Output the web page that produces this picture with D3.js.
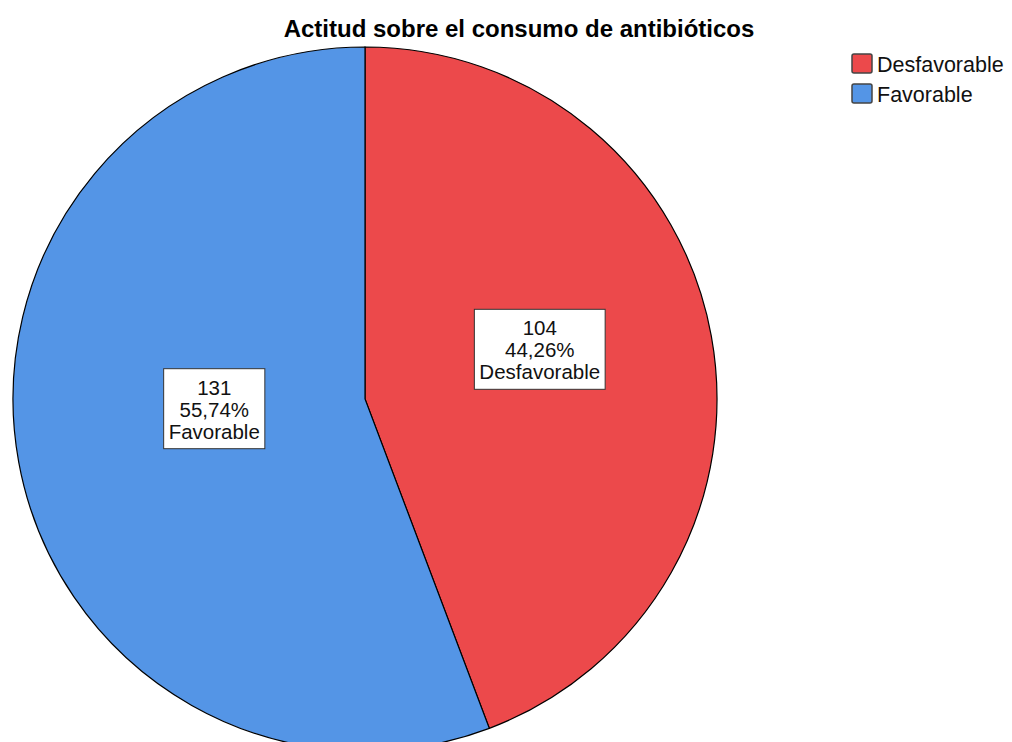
<!DOCTYPE html>
<html>
<head>
<meta charset="utf-8">
<script src="https://cdn.jsdelivr.net/npm/d3@7"></script>
<style>
  body { margin: 0; background: #ffffff; }
  svg { display: block; font-family: "Liberation Sans", Arial, sans-serif; }
</style>
</head>
<body>
<svg id="chart" width="1012" height="742"></svg>
<script>
// data
const categories = ["Desfavorable", "Favorable"];
const counts = [104, 131];
const percents = ["44,26%", "55,74%"];
const colors = ["#ec494b", "#5495e6"];

let chart = d3.select("#chart");

let cx = 365, cy = 399, radius = 352;

// title
chart.append("text")
    .text("Actitud sobre el consumo de antibióticos")
    .attr("x", 519)
    .attr("y", 37)
    .style("font-size", "24px")
    .style("font-weight", "bold")
    .style("text-anchor", "middle")
    .style("fill", "#000000");

let data = categories.map(function(c, i) {
    return { name: c, count: counts[i], pct: percents[i], color: colors[i] };
});

let pie = d3.pie()
    .sort(null)
    .value(function(d) { return d.count; });
let arcs = pie(data);

let arc = d3.arc()
    .innerRadius(0)
    .outerRadius(radius);

let g = chart.append("g")
    .attr("transform", "translate(" + cx + "," + cy + ")");

g.selectAll("path")
    .data(arcs)
    .enter()
    .append("path")
    .attr("d", arc)
    .style("fill", function(d) { return d.data.color; })
    .attr("stroke", "#000000")
    .style("stroke-width", "1.2px");

// labels inside slices
let labelArc = d3.arc()
    .innerRadius(radius * 0.47)
    .outerRadius(radius * 0.47);

let labels = g.selectAll("g.lbl")
    .data(arcs)
    .enter()
    .append("g")
    .attr("class", "lbl")
    .attr("transform", function(d) {
        let c = labelArc.centroid(d);
        return "translate(" + (c[0] + 12) + "," + (c[1] - 20) + ")";
    });

labels.each(function(d) {
    let lg = d3.select(this);
    let lines = [String(d.data.count), d.data.pct, d.data.name];
    let rect = lg.append("rect")
        .style("fill", "#ffffff")
        .attr("stroke", "#333333")
        .style("stroke-width", "1px");
    let txt = lg.append("text")
        .style("font-size", "20.5px")
        .style("text-anchor", "middle")
        .style("fill", "#111111");
    lines.forEach(function(l, i) {
        txt.append("tspan")
            .attr("x", 0)
            .attr("y", (i - 1) * 22 + 8)
            .text(l);
    });
    let bb = txt.node().getBBox();
    rect.attr("x", -bb.width / 2 - 5)
        .attr("y", -40)
        .attr("width", bb.width + 10)
        .attr("height", 80);
});

// legend
let legend = chart.selectAll("g.legend")
    .data(data)
    .enter()
    .append("g")
    .attr("class", "legend")
    .attr("transform", function(d, i) { return "translate(852," + (54 + i * 30) + ")"; });

legend.append("rect")
    .attr("width", 20)
    .attr("height", 19)
    .attr("rx", 2)
    .style("fill", function(d) { return d.color; })
    .attr("stroke", "#444444")
    .style("stroke-width", "1.5px");

legend.append("text")
    .text(function(d) { return d.name; })
    .attr("x", 25)
    .attr("y", 18)
    .style("font-size", "21.5px")
    .style("fill", "#111111");
</script>
</body>
</html>
